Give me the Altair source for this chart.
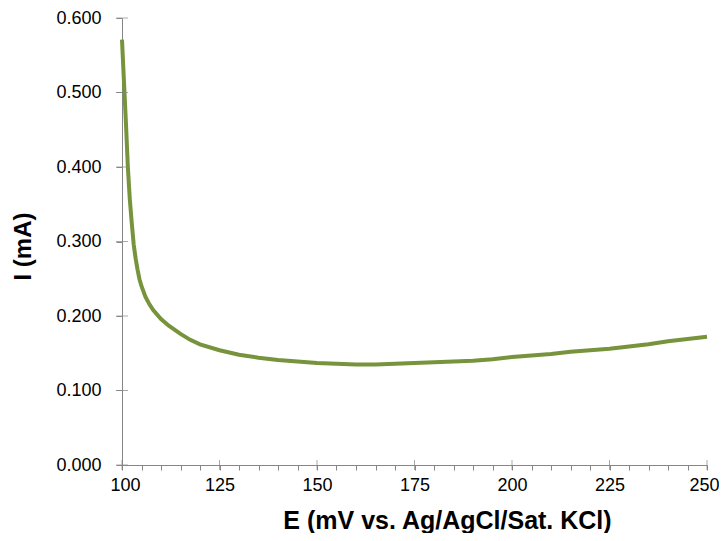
import altair as alt
import pandas as pd

# Data
E_mV = [100, 100.5, 101, 101.5, 102, 102.5, 103, 103.5, 104, 104.5, 105, 106, 107, 108,
        110, 112, 115, 117.5, 120, 125, 130, 135, 140, 145, 150, 155, 160, 165, 170,
        175, 180, 185, 190, 195, 200, 205, 210, 215, 220, 225, 230, 235, 240, 245, 250]
I_mA = [0.571, 0.515, 0.460, 0.400, 0.357, 0.325, 0.296, 0.277, 0.262, 0.249, 0.240,
        0.226, 0.216, 0.208, 0.196, 0.187, 0.176, 0.168, 0.162, 0.154, 0.148, 0.144,
        0.141, 0.139, 0.137, 0.136, 0.135, 0.135, 0.136, 0.137, 0.138, 0.139, 0.140,
        0.142, 0.145, 0.147, 0.149, 0.152, 0.154, 0.156, 0.159, 0.162, 0.166, 0.169, 0.172]

x_major = [100, 125, 150, 175, 200, 225, 250]
x_minor = list(range(100, 251, 5))
y_ticks = [0.0, 0.1, 0.2, 0.3, 0.4, 0.5, 0.6]

FONT = "Liberation Sans"
AXIS_COLOR = "#868686"
LINE_COLOR = "#77933C"

df = pd.DataFrame({"E": E_mV, "I": I_mA})
xs = alt.Scale(domain=[100, 250], nice=False, zero=False)
ys = alt.Scale(domain=[0, 0.6], nice=False)

x_axis = alt.Axis(
    values=x_minor, tickSize=5, tickColor=AXIS_COLOR, domainColor=AXIS_COLOR,
    labelExpr="datum.value % 25 == 0 ? datum.label : ''",
    labelFont=FONT, labelFontSize=18, labelColor="#000000", labelPadding=6,
    labelFlush=True, labelFlushOffset=12, grid=False,
    title="E (mV vs. Ag/AgCl/Sat.  KCl)", titleFont=FONT, titleFontSize=25,
    titleFontWeight="bold", titleColor="#000000",
    titleX=325, titleY=63, titleAlign="center", titleBaseline="alphabetic")
y_axis = alt.Axis(
    values=y_ticks, format=".3f", tickSize=6, tickColor=AXIS_COLOR,
    domainColor=AXIS_COLOR, labelFont=FONT, labelFontSize=18,
    labelColor="#000000", labelPadding=15, labelFlush=False, grid=False,
    title="I (mA)", titleFont=FONT, titleFontSize=24, titleFontWeight="bold",
    titleColor="#000000", titleX=-92, titleY=228, titleAngle=270,
    titleAlign="center", titleBaseline="alphabetic")

line = alt.Chart(df).mark_line(color=LINE_COLOR, strokeWidth=4).encode(
    x=alt.X("E:Q", scale=xs, axis=x_axis),
    y=alt.Y("I:Q", scale=ys, axis=y_axis),
)

xmaj_df = pd.DataFrame({"E": x_major, "I": [0.0] * len(x_major)})
xmaj = alt.Chart(xmaj_df).mark_tick(orient="vertical", size=10, thickness=1,
                                   color=AXIS_COLOR).encode(
    x=alt.X("E:Q", scale=xs, axis=x_axis),
    y=alt.Y("I:Q", scale=ys, axis=y_axis),
)

ymaj_df = pd.DataFrame({"I": y_ticks, "E": [100] * len(y_ticks)})
ymaj = alt.Chart(ymaj_df).mark_tick(orient="horizontal", size=12, thickness=1,
                                   color=AXIS_COLOR).encode(
    x=alt.X("E:Q", scale=xs, axis=x_axis),
    y=alt.Y("I:Q", scale=ys, axis=y_axis),
)

chart = alt.layer(line, xmaj, ymaj).properties(
    width=585, height=447,
    autosize=alt.AutoSizeParams(type="none"),
    padding={"left": 114, "top": 10, "right": 12, "bottom": 68},
).configure_view(stroke=None)

chart.save("out.html", embed_options={"renderer": "svg", "actions": False})
